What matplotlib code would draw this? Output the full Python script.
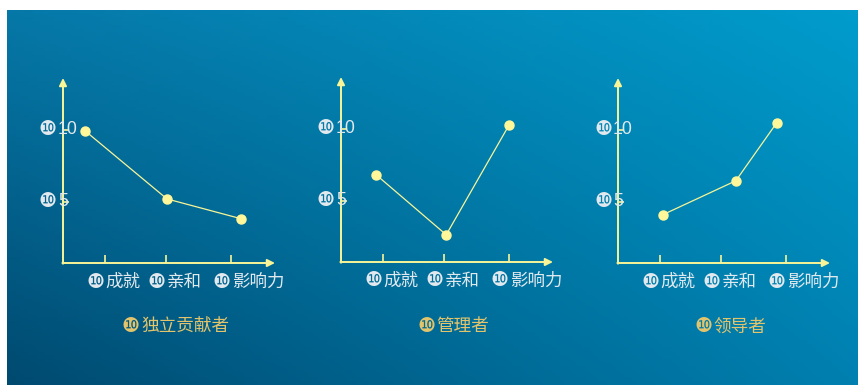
import numpy as np
import matplotlib.pyplot as plt
from matplotlib.transforms import offset_copy

# data
titles = ['独立贡献者', '管理者', '领导者']
categories = ['成就', '亲和', '影响力']
tick_x = [1.0, 1.97, 3.0]
yticks = [10, 5]
point_x = [[0.69, 1.99, 3.17],
           [0.90, 2.01, 3.01],
           [1.05, 2.21, 2.86]]
point_y = [[9.93, 5.2, 3.82],
           [6.8, 2.64, 10.28],
           [4.1, 6.46, 10.49]]

bullet = '\u277f'
cjk = ['Noto Sans CJK SC', 'DejaVu Sans']
digit_font = ['Liberation Sans', 'DejaVu Sans']
axc = '#f8f598'
txtc = '#e2e9ee'
goldc = '#e2c46c'
bsize = 14.5

W, H = 858, 385
fig = plt.figure(figsize=(W / 100, H / 100), dpi=100)
fig.patch.set_facecolor('white')

# gradient background, dark bottom-left to light top-right
bg = fig.add_axes([7 / W, 0, 1 - 7 / W, 1 - 10 / H])
tl = np.array([0x06, 0x78, 0xa8]) / 255
tr = np.array([0x00, 0x9c, 0xcc]) / 255
bl = np.array([0x00, 0x4a, 0x70]) / 255
br = np.array([0x00, 0x80, 0xb0]) / 255
u = np.linspace(0, 1, 200)[None, :, None]
v = np.linspace(0, 1, 100)[:, None, None]
grad = (1 - v) * ((1 - u) * tl + u * tr) + v * ((1 - u) * bl + u * br)
bg.imshow(grad, extent=[0, 1, 0, 1], aspect='auto', origin='upper')
bg.axis('off')

px_x, px_y = 63.0, 14.4
x0, y0 = 0.34, 0.75
aw, ah = 212, 185
origins = [(63, 263), (341, 262), (618, 263)]

title_texts = []
for i in range(3):
    ox, oy = origins[i]
    ax = fig.add_axes([ox / W, 1 - oy / H, aw / W, ah / H])
    xt, yt = x0 + aw / px_x, y0 + ah / px_y
    ax.set_xlim(x0, xt)
    ax.set_ylim(y0, yt)
    ax.axis('off')
    ax.patch.set_alpha(0)

    arrow = dict(arrowstyle='-|>', color=axc, lw=1.4, mutation_scale=11,
                 shrinkA=0, shrinkB=0)
    ax.annotate('', xy=(xt, y0), xytext=(x0 - 0.01, y0), arrowprops=arrow,
                annotation_clip=False)
    ax.annotate('', xy=(x0, yt), xytext=(x0, y0 - 0.05), arrowprops=arrow,
                annotation_clip=False)

    ax.vlines(tick_x, y0, y0 + 8 / px_y, color=axc, lw=1.2, clip_on=False)
    ax.hlines(yticks, x0, x0 + 6 / px_x, color=axc, lw=1.2, clip_on=False)

    ax.plot(point_x[i], point_y[i], color=axc, lw=0.9, marker='o', ms=6.5,
            mfc='#fff79a', mec='#fff79a', clip_on=False, zorder=3)

    for tx, cat in zip(tick_x, categories):
        tb = offset_copy(ax.transData, fig=fig, x=-9, y=-19, units='dots')
        ax.text(tx, y0, bullet, transform=tb, ha='center', va='center',
                fontsize=bsize, color=txtc, family='DejaVu Sans')
        tt = offset_copy(ax.transData, fig=fig, x=1, y=-19, units='dots')
        ax.text(tx, y0, cat, transform=tt, ha='left', va='center',
                fontsize=12.6, color=txtc, family=cjk)

    for yv in yticks:
        tb = offset_copy(ax.transData, fig=fig, x=-15, y=0, units='dots')
        ax.text(x0, yv, bullet, transform=tb, ha='center', va='center',
                fontsize=bsize, color=txtc, family='DejaVu Sans')
        tt = offset_copy(ax.transData, fig=fig, x=-5, y=0, units='dots')
        ax.text(x0, yv, str(yv), transform=tt, ha='left', va='center',
                fontsize=12.7, color=txtc, family=digit_font)

    tt = offset_copy(ax.transData, fig=fig, x=122, y=-64, units='dots')
    t = ax.text(x0, y0, titles[i], transform=tt, ha='center', va='center',
                fontsize=12.7, color=goldc, family=cjk)
    title_texts.append(t)

# gold bullets in front of the panel titles
fig.canvas.draw()
r = fig.canvas.get_renderer()
for t in title_texts:
    bb = t.get_window_extent(renderer=r)
    fig.text((bb.x0 - 10) / W, (bb.y0 + bb.y1) / 2 / H, bullet,
             ha='center', va='center', fontsize=bsize, color=goldc,
             family='DejaVu Sans')

fig.savefig('out.png', dpi=100)
